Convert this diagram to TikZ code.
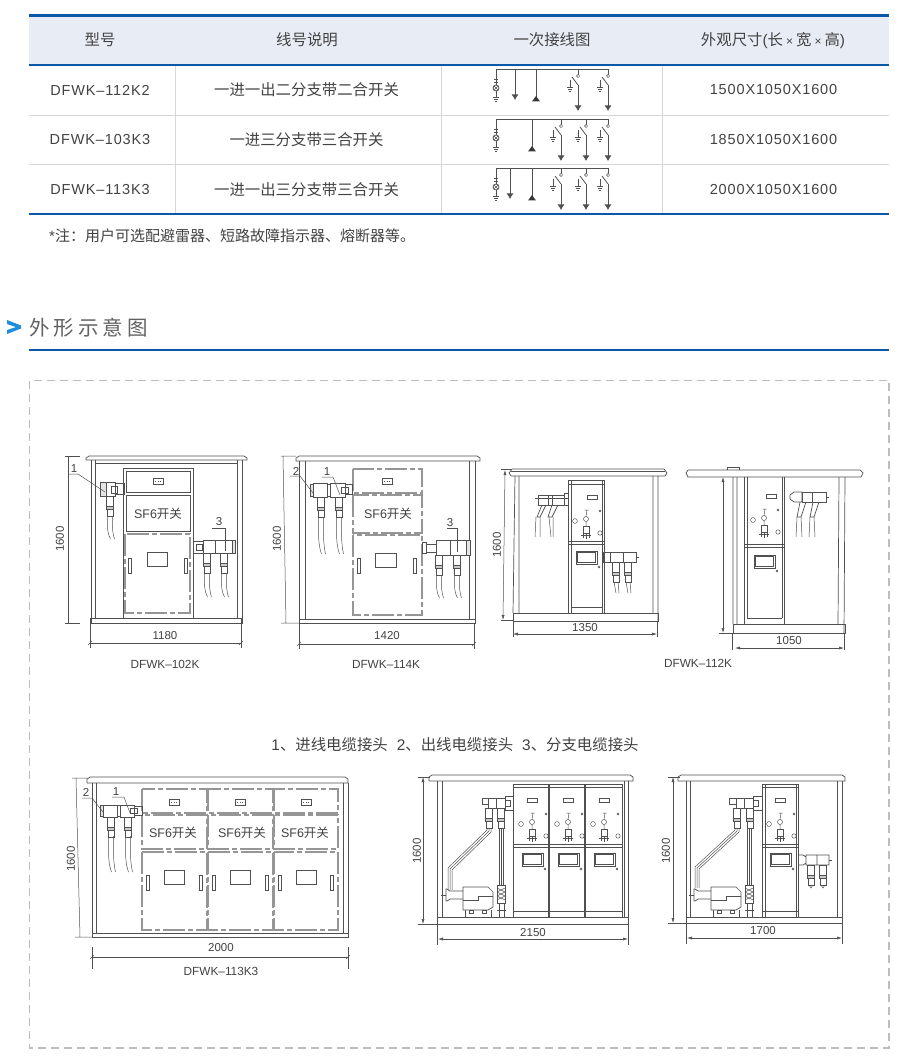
\documentclass[tikz,border=0pt]{standalone}
\usepackage{fontspec}
\setmainfont{Liberation Sans}
\newfontfamily\cjk{Noto Sans CJK SC}
\newfontfamily\spacedlatin[LetterSpace=6]{Liberation Sans}
\usetikzlibrary{arrows.meta}

\definecolor{tblue}{HTML}{0B57A8}
\definecolor{skyblue}{HTML}{1B8FDD}
\definecolor{headfill}{HTML}{E8EDF5}
\definecolor{rowgray}{HTML}{D6D6D6}
\definecolor{dashgray}{HTML}{BDBDBD}
\definecolor{ink}{HTML}{505050}
\definecolor{txtgray}{HTML}{424242}

\tikzset{
  tblrule/.style={line width=2.4pt, draw=tblue},
  rowrule/.style={line width=.9pt, draw=rowgray},
  celltext/.style={text=txtgray, font=\fontsize{15.4}{18}\selectfont, inner sep=0pt},
  latincell/.style={text=txtgray, font=\fontsize{14.5}{18}\selectfont\spacedlatin, inner sep=0pt},
  dimtext/.style={text=txtgray, font=\fontsize{11.5}{14}\selectfont, inner sep=0pt},
  sftext/.style={text=txtgray, font=\fontsize{12.5}{15}\selectfont, inner sep=0pt},
  wallline/.style={line width=.7pt, draw=ink},
  thinline/.style={line width=.5pt, draw=ink},
  doorline/.style={line width=1.3pt, draw=ink!60, dash pattern=on 22pt off 3pt on 5pt off 3pt},
  singleline/.style={line width=.8pt, draw=ink},
  dimline/.style={line width=.5pt, draw=ink},
  dimarrow/.style={line width=.5pt, draw=ink, {Latex[length=5pt,width=3pt]}-{Latex[length=5pt,width=3pt]}},
  tipdown/.style={singleline, -{Latex[length=5.5pt,width=7pt]}},
}

% one line schemes
\newcommand{\ptfeed}[2]{
  \draw[singleline] (#1,#2) -- (#1,#2+16);
  \draw[thinline] (#1-2,#2+10) -- (#1+2,#2+10) (#1-2,#2+13) -- (#1+2,#2+13);
  \draw[singleline] (#1,#2+19) circle (3);
  \draw[thinline] (#1-2.1,#2+16.9) -- (#1+2.1,#2+21.1) (#1-2.1,#2+21.1) -- (#1+2.1,#2+16.9);
  \draw[singleline] (#1,#2+22) -- (#1,#2+28);
  \draw[thinline] (#1-3,#2+28) -- (#1+3,#2+28) (#1-2,#2+30) -- (#1+2,#2+30) (#1-1,#2+32) -- (#1+1,#2+32);
}
\newcommand{\swfeed}[2]{
  \draw[singleline] (#1,#2) -- (#1,#2+8);
  \draw[thinline, fill=white] (#1,#2+7) circle (1.6);
  \draw[singleline] (#1-6,#2+8) -- (#1,#2+16);
  \draw[tipdown] (#1,#2+16) -- (#1,#2+42);
  \draw[thinline] (#1-8,#2+11) -- (#1-8,#2+18);
  \draw[thinline] (#1-11,#2+18) -- (#1-5,#2+18) (#1-10,#2+20) -- (#1-6,#2+20) (#1-9,#2+22) -- (#1-7,#2+22);
}
\newcommand{\upfeed}[2]{
  \draw[singleline] (#1,#2) -- (#1,#2+32);
  \fill[ink!70!black] (#1,#2+27) -- (#1-4,#2+32.5) -- (#1+4,#2+32.5) -- cycle;
}

% cabinet pieces
\newcommand{\roofline}[4]{
  \draw[wallline] (#1+3,#3) -- (#2-3,#3) -- (#2,#3+2) -- (#2,#4) -- (#1,#4) -- (#1,#3+2) -- cycle;
}
\newcommand{\cablehead}[2]{
  \draw[thinline, fill=white] (#1-3.5,#2) rectangle (#1+3.5,#2+10);
  \draw[thinline, fill=ink!30] (#1-3.5,#2+10) rectangle (#1+3.5,#2+13);
  \draw[thinline, fill=white] (#1-3,#2+13) rectangle (#1+3,#2+20);
}
\newcommand{\cablerun}[3]{
  \draw[thinline] (#1-2.5,#2) .. controls (#1-3,#2+#3*.6) and (#1-2,#2+#3*.8) .. (#1+.5,#2+#3);
  \draw[thinline] (#1+2.5,#2) .. controls (#1+2,#2+#3*.6) and (#1+3,#2+#3*.8) .. (#1+4.5,#2+#3);
}
\newcommand{\sfbay}[8]{
  \draw[doorline] (#1,#3) rectangle (#2,#4);
  \draw[doorline] (#1,#5) rectangle (#2,#6);
  \draw[doorline] (#1,#7) rectangle (#2,#8);
}
\newcommand{\gaugebox}[2]{
  \draw[wallline] (#1-5,#2-3) rectangle (#1+5,#2+3);
  \draw[thinline, dotted] (#1-3,#2) -- (#1+3,#2);
}
\newcommand{\winbox}[4]{\draw[wallline] (#1,#3) rectangle (#2,#4);}
\newcommand{\handlebox}[2]{\draw[wallline] (#1-1.8,#2) rectangle (#1+1.8,#2+15);}
\newcommand{\frontbay}[4]{
  \draw[wallline] (#1+#3-5,#2-23.5) rectangle (#1+#3+5,#2-20);
  \draw[thinline] (#1,#2) circle (2.5);
  \draw[thinline] (#1,#2+2.5) -- (#1,#2+7) (#1,#2-2.5) -- (#1+1,#2-9) (#1-1.5,#2-9) -- (#1+2.5,#2-9);
  \draw[thinline] (#1-11,#2+2) circle (2.4);
  \draw[thinline] (#1+14,#2+14) circle (2.2);
  \draw[thinline] (#1+14,#2-8) circle (1);
  \draw[thinline] (#1-3,#2+7) rectangle (#1+3,#2+14);
  \draw[thinline] (#1-3,#2+14) -- (#1-3,#2+19) (#1,#2+14) -- (#1,#2+20) (#1+3,#2+14) -- (#1+3,#2+19);
  \draw[line width=1pt, draw=ink] (#1-5,#2+16) -- (#1+5,#2+16);
  \draw[wallline] (#1-10,#2+31+#4) rectangle (#1+11,#2+44+#4);
  \draw[thinline] (#1-8.5,#2+32.5+#4) rectangle (#1+9.5,#2+42.5+#4);
  \draw[thinline] (#1+13,#2+47+#4) circle (1);
}
\newcommand{\motorset}[1]{
  \draw[wallline] (#1+463,887) -- (#1+488,887) -- (#1+493,892) -- (#1+493,907) -- (#1+488,910) -- (#1+463,910) -- cycle;
  \draw[wallline] (#1+463,900) -- (#1+478,900) -- (#1+478,896) -- (#1+493,896);
  \draw[wallline] (#1+465,910) -- (#1+465,917) -- (#1+491,917) -- (#1+491,910);
  \draw[thinline] (#1+469,910) rectangle (#1+473,913) (#1+482,910) rectangle (#1+486,913);
  \draw[wallline] (#1+463,891) -- (#1+450,891) -- (#1+447,889) -- (#1+446,889) -- (#1+446,901) -- (#1+447,901) -- (#1+450,899) -- (#1+463,899);
  \draw[thinline] (#1+441,895) -- (#1+446,895);
  \draw[wallline] (#1+497,885) rectangle (#1+505,903);
  \draw[thinline] (#1+497,888) -- (#1+505,892) (#1+497,892) -- (#1+505,896) (#1+497,896) -- (#1+505,900)
    (#1+505,888) -- (#1+497,892) (#1+505,892) -- (#1+497,896) (#1+505,896) -- (#1+497,900);
  \draw[wallline] (#1+499,903) -- (#1+499,917) (#1+504,903) -- (#1+504,917) (#1+497,910) -- (#1+506,910);
  \draw[thinline] (#1+499,828) -- (#1+499,885) (#1+501,828) -- (#1+501,885) (#1+503,828) -- (#1+503,885);
}

\begin{document}
\begin{tikzpicture}[x=1pt, y=-1pt]
  \useasboundingbox (0,0) rectangle (900,1064);

  % table
  \fill[headfill] (29,15) rectangle (889,65);
  \draw[rowrule] (175,65) -- (175,214) (441,65) -- (441,214) (662,65) -- (662,214);
  \draw[rowrule] (29,115) -- (889,115) (29,164.5) -- (889,164.5);
  \draw[tblrule] (29,15.5) -- (889,15.5);
  \draw[tblrule] (29,65) -- (889,65);
  \draw[tblrule] (29,214) -- (889,214);

  \node (headtype) [celltext] at (100,40) {\cjk 型号};
  \node (headline) [celltext] at (307,40) {\cjk 线号说明};
  \node (headwire) [celltext] at (552,40) {\cjk 一次接线图};
  \node (headsize) [celltext, anchor=base] at (773,45.5) {{\cjk 外观尺寸}({\cjk 长}\hspace{3pt}\fontsize{12}{14}\selectfont ×\hspace{3pt}\fontsize{15.4}{18}\selectfont{\cjk 宽}\hspace{3pt}\fontsize{12}{14}\selectfont ×\hspace{3pt}\fontsize{15.4}{18}\selectfont{\cjk 高})};

  \node (typea) [latincell] at (100,90) {DFWK–112K2};
  \node (typeb) [latincell] at (100,140) {DFWK–103K3};
  \node (typec) [latincell] at (100,189.5) {DFWK–113K3};
  \node (linea) [celltext] at (306.5,90) {\cjk 一进一出二分支带二合开关};
  \node (lineb) [celltext] at (306.5,140) {\cjk 一进三分支带三合开关};
  \node (linec) [celltext] at (306.5,189.5) {\cjk 一进一出三分支带三合开关};
  \node (sizea) [latincell] at (773.5,90) {1500X1050X1600};
  \node (sizeb) [latincell] at (773.5,140) {1850X1050X1600};
  \node (sizec) [latincell] at (773.5,189.5) {2000X1050X1600};
  \node (tablenote) [celltext, font=\fontsize{15}{18}\selectfont, anchor=west] at (49,236) {*{\cjk 注：用户可选配避雷器、短路故障指示器、熔断器等。}};

  % one line schemes
  \draw[singleline] (496,69) -- (608,69);
  \ptfeed{496}{69}
  \draw[tipdown] (515,69) -- (515,100);
  \upfeed{536}{69}
  \swfeed{578}{69}
  \swfeed{608}{69}

  \draw[singleline] (496,119) -- (608,119);
  \ptfeed{496}{119}
  \upfeed{532}{119}
  \swfeed{561}{119}
  \swfeed{586}{119}
  \swfeed{608}{119}

  \draw[singleline] (496,168) -- (608,168);
  \ptfeed{496}{168}
  \draw[tipdown] (510,168) -- (510,199);
  \upfeed{532}{168}
  \swfeed{561}{168}
  \swfeed{586}{168}
  \swfeed{608}{168}

  % section title
  \fill[skyblue] (7,320) -- (21,325.5) -- (21,328.5) -- (7,334) -- (7,330) -- (16,327) -- (7,324) -- cycle;
  \node (sectitle) [inner sep=0pt, text=black!62, anchor=west, font=\fontsize{20.5}{24}\selectfont\cjk] at (29,328) {外\hspace{4pt}形\hspace{4pt}示\hspace{4pt}意\hspace{4pt}图};
  \draw[line width=1.4pt, draw=tblue] (29,350) -- (889,350);
  \draw[line width=1.1pt, draw=dashgray, dash pattern=on 8pt off 5pt] (29.5,380.5) rectangle (889,1048);

  % DFWK-102K
  \roofline{86}{247}{456}{460}
  \draw[wallline] (91,460) -- (91,623) -- (242,623) -- (242,460);
  \draw[wallline] (95,460) -- (95,618) (237,460) -- (237,618) (91,618) -- (242,618) (95,463) -- (237,463);
  \draw[wallline] (123,618) -- (123,468) -- (193,468) -- (193,618);
  \draw[wallline] (126,471) rectangle (190,492) (126,495) rectangle (190,531);
  \draw[doorline] (125,534) rectangle (190,613);
  \gaugebox{158}{481.5}
  \winbox{147}{167}{552}{566}
  \handlebox{130}{558}
  \handlebox{186}{558}
  \node (sfone) [sftext] at (158,514) {SF6{\cjk 开关}};

  \draw[wallline, fill=ink!15] (100,482) rectangle (106,496);
  \draw[wallline] (106,482) rectangle (115,496) (115,483) rectangle (124,494) (111,486) rectangle (117,493);
  \cablehead{110}{496}
  \cablerun{110}{516}{23}
  \draw[wallline] (193,541) rectangle (203,553) (203,540) rectangle (215,553) (215,540) rectangle (234,553);
  \draw[wallline, fill=ink!15] (232,540) rectangle (235,553);
  \draw[wallline] (196,544) rectangle (202,550);
  \cablehead{207}{553}
  \cablehead{224}{553}
  \cablerun{207}{573}{24}
  \cablerun{224}{573}{24}
  \node (partone) [dimtext] at (74,469) {1};
  \draw[thinline] (68,474) -- (78,474) -- (105,492);
  \node (partthree) [dimtext] at (219,522) {3};
  \draw[thinline] (212,528) -- (225,528) -- (225,551);

  \draw[dimline] (68,456) -- (68,623) (65,456) -- (80,456) (65,623) -- (80,623);
  \node (hone) [dimtext, rotate=90] at (60,539) {1600};
  \draw[dimline] (90,643) -- (241,643) (90,618) -- (90,648) (241,618) -- (241,648);
  \draw[dimline] (88,645) -- (92,641) (239,645) -- (243,641);
  \node (wone) [dimtext] at (165,636) {1180};
  \node (capone) [dimtext, font=\fontsize{11.8}{14}\selectfont] at (165,664) {DFWK–102K};

  % DFWK-114K
  \roofline{296}{480}{456}{461}
  \draw[wallline] (299,461) -- (299,623) -- (475,623) -- (475,461);
  \draw[wallline] (305,461) -- (305,619) (469,461) -- (469,619) (299,619) -- (475,619);
  \sfbay{353}{422}{469}{493}{495}{533}{535}{615}
  \gaugebox{387}{481.5}
  \winbox{375}{396}{553}{567}
  \handlebox{359}{558}
  \handlebox{415}{558}
  \node (sftwo) [sftext] at (388,514) {SF6{\cjk 开关}};

  \draw[wallline, fill=ink!15] (310,484) rectangle (313,496);
  \draw[wallline] (313,483) rectangle (327,497) (327,484) rectangle (330,496) (330,483) rectangle (345,497) (345,484) rectangle (352,494) (341,487) rectangle (348,493);
  \cablehead{321}{497}
  \cablehead{339}{497}
  \cablerun{321}{517}{37}
  \cablerun{339}{517}{37}
  \draw[wallline] (422,542) rectangle (426,553) (426,544) rectangle (436,552) (436,540) rectangle (450,555) (450,540) rectangle (466,555);
  \draw[wallline, fill=ink!15] (466,540) rectangle (470,555);
  \cablehead{439}{555}
  \cablehead{457}{555}
  \cablerun{439}{575}{23}
  \cablerun{457}{575}{23}
  \node (parttwotwo) [dimtext] at (296,471) {2};
  \draw[thinline] (290,476) -- (300,476) -- (313,493);
  \node (partonetwo) [dimtext] at (327,472) {1};
  \draw[thinline] (322,477) -- (333,477) -- (340,495);
  \node (partthreetwo) [dimtext] at (450,523) {3};
  \draw[thinline] (447,528) -- (457,528) -- (457,552);

  \draw[dimline] (283,456) -- (286,623) (281,456) -- (296,456) (281,623) -- (299,623);
  \node (htwo) [dimtext, rotate=90] at (277,539) {1600};
  \draw[dimline] (299,644) -- (474,644) (299,623) -- (299,649) (474,623) -- (474,649);
  \draw[dimline] (297,646) -- (301,642) (472,646) -- (476,642);
  \node (wtwo) [dimtext] at (387,636) {1420};
  \node (captwo) [dimtext, font=\fontsize{11.8}{14}\selectfont] at (386,664) {DFWK–114K};

  % DFWK-112K side views
  \draw[wallline] (512,469) -- (664,469) -- (667,473) -- (665,476) -- (511,476) -- (509,473) -- cycle;
  \draw[thinline] (511,471) -- (665,471);
  \draw[wallline] (513,613) -- (515,476) (519,476) -- (519,613) (653,476) -- (653,613) (658,476) -- (658,621);
  \draw[wallline] (513,613) rectangle (658,621);
  \draw[wallline] (568,613) -- (568,480) -- (604,480) -- (604,613);
  \draw[thinline] (571,480) -- (571,613) (602,480) -- (602,613) (571,607) -- (602,607);
  \draw[wallline] (568,484) -- (604,484);
  \draw[line width=1pt, draw=ink] (568,541) -- (604,541);
  \draw[wallline] (568,544) -- (604,544);
  \frontbay{586}{519}{6}{1}
  \draw[wallline] (535,498) -- (568,498) (538,495) rectangle (548,505) (548,495) rectangle (552,505) (552,495) rectangle (564,505) (564,493) rectangle (568,505);
  \draw[wallline] (542,505) -- (537,517) -- (540,517) -- (546,505) (552,505) -- (548,517) -- (552,517) -- (558,505);
  \draw[thinline] (536,517) -- (535,537) (540,517) -- (540,537) (549,517) -- (551,537) (553,517) -- (553,537);
  \draw[wallline] (603,552) rectangle (610,562) (610,552) rectangle (623,562) (623,552) rectangle (636,562);
  \draw[thinline] (636,557) -- (639,557);
  \cablehead{616}{562}
  \cablehead{628}{562}
  \draw[thinline] (614,582) -- (616,593) (618,582) -- (619,593) (626,582) -- (628,593) (630,582) -- (631,593);

  \draw[dimarrow] (505,470) -- (503,620);
  \draw[dimline] (501,469) -- (512,469) (501,620) -- (513,620);
  \node (hthree) [dimtext, rotate=90] at (497,545) {1600};
  \draw[dimarrow] (513,634) -- (657,634);
  \draw[dimline] (513,621) -- (513,637) (657,621) -- (657,637);
  \node (wthree) [dimtext] at (585,628) {1350};

  \draw[wallline] (688,470) -- (860,470) -- (863,473) -- (861,477) -- (688,477) -- (686,473) -- cycle;
  \draw[wallline] (727,470) -- (727,467) -- (739,467) -- (739,470);
  \draw[wallline] (733,477) -- (733,624) (737,477) -- (737,624) (845,477) -- (844,633) (839,477) -- (838,624);
  \draw[wallline] (733,624) rectangle (845,633);
  \draw[wallline] (744,624) -- (744,477) (784,477) -- (784,624);
  \draw[thinline] (747,477) -- (747,618) (782,477) -- (782,618) (747,618) -- (782,618);
  \draw[line width=1pt, draw=ink] (744,544) -- (784,544);
  \draw[wallline] (744,547) -- (784,547);
  \frontbay{764}{518}{7}{6}
  \draw[wallline] (790,495) -- (794,492) -- (802,492) -- (802,502) -- (794,502) -- (790,499) -- cycle;
  \draw[wallline] (802,492) rectangle (812,502) (812,492) rectangle (826,502);
  \draw[thinline] (826,497) -- (829,497);
  \draw[wallline] (800,502) -- (797,517) -- (801,517) -- (806,502) (813,502) -- (810,517) -- (814,517) -- (819,502);
  \draw[thinline] (797,517) -- (796,537) (801,517) -- (802,537) (810,517) -- (809,537) (814,517) -- (815,537);

  \draw[dimarrow] (723,477) -- (723,633);
  \draw[dimline] (719,633) -- (733,633) (732,633) -- (732,650) (844,633) -- (844,650);
  \draw[dimarrow] (735,648) -- (844,648);
  \node (wfour) [dimtext] at (789,641) {1050};
  \node (capthree) [dimtext, font=\fontsize{11.8}{14}\selectfont] at (698,663) {DFWK–112K};

  % part list
  \node (partlist) [celltext] at (455,745) {1{\cjk 、进线电缆接头}\hspace{9pt}2{\cjk 、出线电缆接头}\hspace{9pt}3{\cjk 、分支电缆接头}};

  % DFWK-113K3
  \roofline{87}{348}{777}{783}
  \draw[wallline] (92,783) -- (92,937) -- (348,937) -- (348,783);
  \draw[wallline] (96,783) -- (96,933) (343,783) -- (343,933) (92,933) -- (348,933);
  \foreach \bayl/\bayr/\midx in {142/207/174, 208/273/240, 274/338/306} {
    \sfbay{\bayl}{\bayr}{789}{813}{815}{849}{852}{930}
    \gaugebox{\midx}{802}
    \winbox{\midx-10}{\midx+10}{870}{884}
    \handlebox{\bayl+6}{875}
    \handlebox{\bayr-6}{875}
  }
  \node (sfthreea) [sftext] at (173,833) {SF6{\cjk 开关}};
  \node (sfthreeb) [sftext] at (242,833) {SF6{\cjk 开关}};
  \node (sfthreec) [sftext] at (305,833) {SF6{\cjk 开关}};

  \draw[wallline, fill=ink!15] (100,805) rectangle (103,816);
  \draw[wallline] (103,805) rectangle (117,817) (117,805) rectangle (120,816) (120,805) rectangle (134,817) (134,806) rectangle (142,815) (130,808) rectangle (137,813);
  \cablehead{111}{817}
  \cablehead{128}{817}
  \cablerun{111}{836}{36}
  \cablerun{128}{836}{36}
  \node (parttwofive) [dimtext] at (86,792) {2};
  \draw[thinline] (82,798) -- (92,798) -- (103,812);
  \node (partonefive) [dimtext] at (116,792) {1};
  \draw[thinline] (112,797) -- (124,797) -- (130,813);

  \draw[dimline] (76,778) -- (80,937) (72,778) -- (87,778) (75,937) -- (92,937);
  \node (hfive) [dimtext, rotate=90] at (71,859) {1600};
  \draw[dimline] (92,957) -- (348,957) (92,947) -- (92,969) (348,947) -- (348,969);
  \draw[dimline] (90,959) -- (94,955) (346,959) -- (350,955);
  \node (wfive) [dimtext] at (221,948) {2000};
  \node (capfive) [dimtext, font=\fontsize{11.8}{14}\selectfont] at (221,971) {DFWK–113K3};

  % side views with motor
  \roofline{429}{633}{775}{781}
  \draw[wallline] (437,781) -- (437,924) -- (628,924) -- (628,781);
  \draw[wallline] (442,781) -- (442,917) (624,781) -- (624,917) (437,917) -- (628,917);
  \draw[wallline] (513,917) -- (513,784) -- (622,784) -- (622,917);
  \draw[line width=1.6pt, draw=ink] (549,784) -- (549,917);
  \draw[line width=1.6pt, draw=ink] (585,784) -- (585,917);
  \draw[wallline] (513,787) -- (622,787) (513,844) -- (622,844) (513,847) -- (622,847) (513,911) -- (622,911);
  \frontbay{532}{822}{0}{0}
  \frontbay{568}{822}{0}{0}
  \frontbay{604}{822}{0}{0}
  \draw[wallline] (482,798) -- (482,804) -- (488,804) -- (488,798) -- cycle (488,798) rectangle (496,808) (496,798) rectangle (505,808) (505,796) rectangle (513,810);
  \draw[wallline] (505,800) rectangle (510,806);
  \cablehead{489}{808}
  \draw[thinline] (487,828) -- (487,830) -- (448,868) -- (448,890) (489,828) -- (489,831) -- (450,869) -- (450,890) (491,828) -- (491,832) -- (452,870) -- (452,890);
  \cablehead{501}{808}
  \motorset{0}

  \draw[dimarrow] (423,777) -- (423,924);
  \draw[dimline] (418,777) -- (430,777) (418,924) -- (437,924);
  \node (hsix) [dimtext, rotate=90] at (417,851) {1600};
  \draw[dimarrow] (438,939) -- (628,939);
  \draw[dimline] (437,924) -- (437,945) (628,924) -- (628,945);
  \node (wsix) [dimtext] at (533,933) {2150};

  \roofline{678}{845}{775}{781}
  \draw[wallline] (686,781) -- (686,923) -- (842,923) -- (842,781);
  \draw[wallline] (690,781) -- (690,917) (837,781) -- (837,917) (686,917) -- (842,917);
  \draw[wallline] (762,917) -- (762,784) -- (798,784) -- (798,917);
  \draw[thinline] (765,784) -- (765,917) (796,784) -- (796,917) (762,787) -- (798,787);
  \draw[line width=1pt, draw=ink] (762,844) -- (798,844);
  \draw[wallline] (762,847) -- (798,847) (762,911) -- (798,911);
  \frontbay{780}{822}{0}{0}
  \draw[wallline] (729,798) -- (729,804) -- (736,804) -- (736,798) -- cycle (736,798) rectangle (744,808) (744,798) rectangle (753,808) (753,796) rectangle (762,810);
  \draw[wallline] (753,800) rectangle (758,806);
  \cablehead{737}{808}
  \draw[thinline] (735,828) -- (735,830) -- (695,867) -- (695,888) (737,828) -- (737,831) -- (697,868) -- (697,888) (739,828) -- (739,832) -- (699,869) -- (699,888);
  \cablehead{750}{808}
  \motorset{248}
  \draw[wallline] (798,855) -- (803,855) -- (806,857) -- (806,863) -- (803,865) -- (798,865) (806,855) rectangle (817,865) (817,855) rectangle (829,865);
  \draw[thinline] (829,860) -- (832,860);
  \cablehead{811}{865}
  \cablehead{823}{865}
  \draw[thinline] (809,885) -- (811,888) -- (813,885) (821,885) -- (823,888) -- (825,885);

  \draw[dimarrow] (673,777) -- (673,923);
  \draw[dimline] (668,777) -- (680,777) (668,923) -- (686,923);
  \node (hseven) [dimtext, rotate=90] at (666,851) {1600};
  \draw[dimarrow] (687,938) -- (842,938);
  \draw[dimline] (686,923) -- (686,944) (842,923) -- (842,944);
  \node (wseven) [dimtext] at (763,931) {1700};
\end{tikzpicture}
\end{document}
